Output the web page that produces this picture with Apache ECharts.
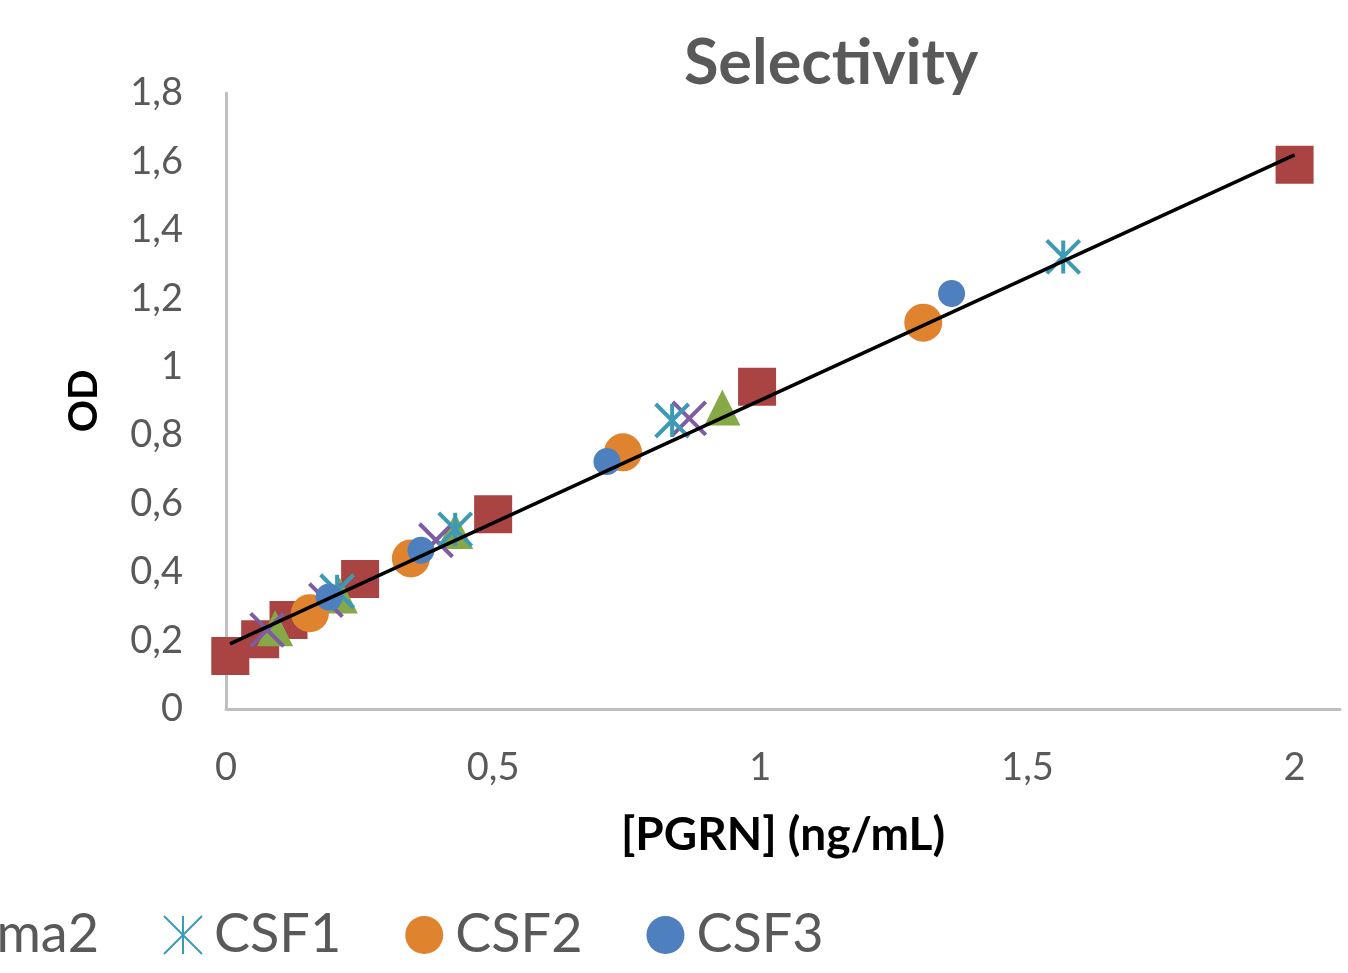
<!DOCTYPE html>
<html>
<head>
<meta charset="utf-8">
<script src="https://cdn.jsdelivr.net/npm/echarts@6/dist/echarts.min.js"></script>
<style>
html,body{margin:0;padding:0;background:#fff;}
#chart{width:1348px;height:973px;}
</style>
</head>
<body>
<div id="chart"></div>
<script>
// ---- data ----
var seriesNames = ['Standard', 'Plasma1', 'Plasma2', 'CSF1', 'CSF2', 'CSF3'];
var standardX = [0.008, 0.064, 0.117, 0.251, 0.5, 0.994, 2.0];
var standardY = [0.155, 0.204, 0.26, 0.38, 0.569, 0.942, 1.59];
var plasma1X = [0.092, 0.213, 0.429, 0.929];
var plasma1Y = [0.236, 0.332, 0.52, 0.881];
var plasma2X = [0.077, 0.187, 0.393, 0.867];
var plasma2Y = [0.231, 0.318, 0.493, 0.849];
var csf1X = [0.208, 0.429, 0.835, 1.567];
var csf1Y = [0.344, 0.525, 0.843, 1.321];
var csf2X = [0.157, 0.346, 0.743, 1.305];
var csf2Y = [0.28, 0.44, 0.75, 1.129];
var csf3X = [0.193, 0.365, 0.713, 1.358];
var csf3Y = [0.327, 0.464, 0.723, 1.214];
var trendSlope = 0.717;
var trendIntercept = 0.185;
var trendRange = [0.0075, 2.0];
var xTicks = [0, 0.5, 1, 1.5, 2];
var yTicks = [0, 0.2, 0.4, 0.6, 0.8, 1, 1.2, 1.4, 1.6, 1.8];

function pairs(xs, ys) { return xs.map(function (x, i) { return [x, ys[i]]; }); }
function comma(v) { return String(+v.toFixed(2)).replace('.', ','); }

var FONT = 'Lato';
var GREY = '#595959';
var legendFont = 54, legendIconW = 38, legendTextPad = 7, legendGap = 64;

// legend offset so that the first entries run off the left edge as in the reference
var ctx = document.createElement('canvas').getContext('2d');
ctx.font = legendFont + 'px ' + FONT;
var hiddenW = 0;
for (var i = 0; i < 3; i++) {
  hiddenW += legendIconW + 5 + legendTextPad + ctx.measureText(seriesNames[i]).width + legendGap;
}
var legendLeft = 162 - 5 - hiddenW;

var xPath = 'path://M0,0L10,10M10,0L0,10';
var starPath = 'path://M0,0L10,10M10,0L0,10M5,0L5,10';

var chart = echarts.init(document.getElementById('chart'), null, {renderer: 'canvas'});
chart.setOption({
  backgroundColor: '#fff',
  animation: false,
  title: {
    text: 'Selectivity',
    left: 826,
    textAlign: 'center',
    top: 27,
    textStyle: {fontFamily: FONT, fontWeight: 'bold', fontSize: 63, color: GREY}
  },
  grid: {left: 226, right: 8, top: 93, bottom: 264, containLabel: false},
  legend: {
    left: legendLeft,
    top: 903,
    width: 3000,
    itemWidth: legendIconW,
    itemHeight: 38,
    itemGap: legendGap,
    data: seriesNames,
    textStyle: {fontFamily: FONT, fontSize: legendFont, color: GREY, padding: [0, 0, 0, legendTextPad]}
  },
  xAxis: {
    type: 'value',
    min: xTicks[0],
    max: 2.085,
    interval: 0.5,
    name: '[PGRN] (ng/mL)',
    nameLocation: 'middle',
    nameGap: 103,
    nameTextStyle: {fontFamily: FONT, fontWeight: 'bold', fontSize: 46, color: '#000'},
    axisLine: {lineStyle: {color: '#BFBFBF', width: 3}},
    axisTick: {show: false},
    splitLine: {show: false},
    axisLabel: {
      margin: 40, fontFamily: FONT, fontSize: 38, color: GREY, showMaxLabel: false,
      formatter: function (v) { return xTicks.indexOf(+v.toFixed(2)) >= 0 ? comma(v) : ''; }
    }
  },
  yAxis: {
    type: 'value',
    min: yTicks[0],
    max: yTicks[yTicks.length - 1],
    interval: 0.2,
    name: 'OD',
    nameLocation: 'middle',
    nameGap: 122,
    nameTextStyle: {fontFamily: FONT, fontWeight: 'bold', fontSize: 40, color: '#000'},
    axisLine: {show: true, lineStyle: {color: '#BFBFBF', width: 3}},
    axisTick: {show: false},
    splitLine: {show: false},
    axisLabel: {margin: 43, fontFamily: FONT, fontSize: 38, color: GREY, formatter: comma}
  },
  series: [
    {name: 'Standard', type: 'scatter', symbol: 'rect', symbolSize: 38,
     itemStyle: {color: '#A94442', opacity: 1}, data: pairs(standardX, standardY)},
    {name: 'Plasma1', type: 'scatter', symbol: 'triangle', symbolSize: 36,
     itemStyle: {color: '#87A847', opacity: 1}, data: pairs(plasma1X, plasma1Y)},
    {name: 'Plasma2', type: 'scatter', symbol: xPath, symbolSize: 33,
     itemStyle: {color: 'rgba(0,0,0,0)', borderColor: '#7D5CA3', borderWidth: 4, opacity: 1}, data: pairs(plasma2X, plasma2Y)},
    {name: 'CSF1', type: 'scatter', symbol: starPath, symbolSize: 33,
     itemStyle: {color: 'rgba(0,0,0,0)', borderColor: '#3C9AB5', borderWidth: 4, opacity: 1}, data: pairs(csf1X, csf1Y)},
    {name: 'CSF2', type: 'scatter', symbol: 'circle', symbolSize: 38,
     itemStyle: {color: '#E0832F', opacity: 1}, data: pairs(csf2X, csf2Y)},
    {name: 'CSF3', type: 'scatter', symbol: 'circle', symbolSize: 27,
     itemStyle: {color: '#4E7FBF', opacity: 1}, data: pairs(csf3X, csf3Y)},
    {name: 'Linear (Standard)', type: 'line', symbol: 'none', z: 5,
     lineStyle: {color: '#000', width: 3.5},
     data: trendRange.map(function (x) { return [x, trendIntercept + trendSlope * x]; })}
  ]
});
</script>
</body>
</html>
